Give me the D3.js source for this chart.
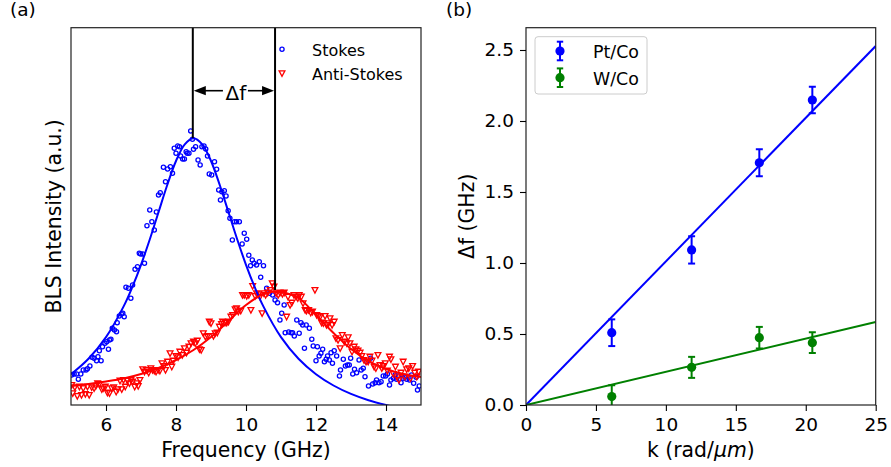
<!DOCTYPE html>
<html><head><meta charset="utf-8">
<script src="https://cdn.jsdelivr.net/npm/d3@7"></script>
<style>body{margin:0;background:#fff}svg{display:block}text{font-family:"DejaVu Sans",sans-serif;fill:#000}</style>
</head><body><svg id="c" width="891" height="467"></svg>
<script>
// ---------- Panel (a) data: [frequency GHz, intensity a.u.] ----------
const stokes = [[5.02,30],[5.09,31],[5.16,31],[5.21,25.7],[5.28,31],[5.35,35],[5.43,35],[5.47,36.3],[5.54,39],[5.60,47.7],[5.66,46.7],[5.73,44.3],[5.77,48.3],[5.81,54.3],[5.86,44.3],[5.90,58.3],[5.97,61.7],[6.02,63.3],[6.07,55.7],[6.10,65],[6.14,65.7],[6.18,76.7],[6.24,75],[6.30,73.3],[6.32,82.3],[6.38,89],[6.44,91],[6.48,91.7],[6.52,88.3],[6.57,117.7],[6.64,116.7],[6.71,106.7],[6.76,120],[6.83,135.7],[6.90,138.3],[6.95,151.7],[6.99,151],[7.05,151],[7.10,141.7],[7.17,179.3],[7.25,195],[7.31,183.3],[7.38,175],[7.44,193],[7.50,210],[7.55,212.3],[7.64,237.7],[7.70,223.3],[7.76,236],[7.84,238.3],[7.90,231.7],[7.95,256.7],[8.00,251.7],[8.05,259],[8.10,258.3],[8.13,249],[8.19,246],[8.24,246],[8.29,253.3],[8.32,251.7],[8.37,251.7],[8.42,274],[8.47,265.7],[8.50,255.7],[8.56,258.3],[8.63,245],[8.69,240],[8.74,258.3],[8.80,259],[8.85,256],[8.90,249],[8.95,231],[9.02,230],[9.10,243.3],[9.16,235.7],[9.22,215],[9.27,205],[9.31,213.3],[9.38,214.3],[9.43,209],[9.49,194.3],[9.54,186.7],[9.61,165],[9.67,183.3],[9.73,183.3],[9.81,183.3],[9.89,161],[9.95,171.7],[10.02,165.7],[10.08,149.7],[10.13,139.3],[10.18,145],[10.23,141.7],[10.30,140],[10.38,143.3],[10.42,127.7],[10.50,139.3],[10.59,116.7],[10.67,111.7],[10.76,110],[10.83,105],[10.90,102.3],[10.97,85],[11.02,91.7],[11.09,100],[11.12,72.3],[11.22,73],[11.29,72.3],[11.33,72.3],[11.38,69],[11.45,85],[11.52,71.7],[11.57,82.3],[11.62,80],[11.67,56.7],[11.72,80],[11.81,76.7],[11.88,65.7],[11.92,59],[12.00,44.3],[12.04,58.3],[12.09,49],[12.14,51.7],[12.19,55.7],[12.24,43.3],[12.29,45.7],[12.33,49],[12.38,45],[12.43,52.3],[12.47,41.7],[12.52,54.3],[12.59,49],[12.67,29],[12.70,35],[12.78,45.7],[12.84,39],[12.90,40],[12.95,40],[12.99,46.7],[13.05,31],[13.10,35.7],[13.16,32.3],[13.23,45],[13.29,35],[13.35,36.7],[13.40,28.3],[13.45,43.3],[13.50,19],[13.56,46.7],[13.62,21],[13.69,22.3],[13.73,25],[13.80,22.3],[13.86,23.3],[13.92,29],[13.99,29],[14.04,31],[14.10,20],[14.14,25],[14.21,26.7],[14.26,30],[14.30,25.7],[14.36,29],[14.43,22.3],[14.49,26.7],[14.54,27.7],[14.59,25.7],[14.67,25],[14.73,30],[14.79,21.7],[14.86,27.7],[14.90,15],[14.95,19]];

const antiStokes = [[5.02,20],[5.05,11.7],[5.11,17.7],[5.18,9],[5.24,18.3],[5.30,10],[5.35,16.7],[5.41,11],[5.47,18.3],[5.52,10],[5.59,17.7],[5.66,16.7],[5.71,19],[5.76,21.7],[5.81,21],[5.88,15.7],[5.92,16.7],[5.98,18.3],[6.04,12.3],[6.10,11.7],[6.16,16.7],[6.22,17.7],[6.29,13.3],[6.34,15.7],[6.40,24.3],[6.45,15.7],[6.50,25],[6.55,18.3],[6.61,24.3],[6.67,21.7],[6.71,25],[6.76,23.3],[6.82,18.3],[6.88,21.7],[6.92,19],[6.97,25],[7.05,35.7],[7.10,33.3],[7.16,35],[7.22,32.3],[7.28,36.7],[7.33,35],[7.38,34.3],[7.43,33.3],[7.49,35],[7.54,34.3],[7.60,41.7],[7.66,39],[7.70,35],[7.76,43.3],[7.83,51.7],[7.88,38.3],[7.92,44.3],[8.00,49],[8.06,47.7],[8.11,53.3],[8.18,50],[8.24,56.7],[8.30,52.3],[8.37,58.3],[8.43,61.7],[8.50,63.3],[8.55,61.7],[8.61,64.3],[8.67,55.7],[8.72,55],[8.78,71.7],[8.84,68.3],[8.90,69],[8.95,83.3],[9.00,81.7],[9.07,69],[9.12,71.7],[9.18,72.3],[9.24,78.3],[9.30,81],[9.33,83.3],[9.40,82.3],[9.45,82.3],[9.50,83.3],[9.57,88.3],[9.62,90],[9.69,95.7],[9.73,96.7],[9.78,93.3],[9.85,94.3],[9.90,110],[9.95,110],[10.02,109],[10.08,110],[10.14,95],[10.19,119],[10.26,109],[10.30,111.7],[10.36,110.7],[10.40,108.3],[10.46,91.7],[10.51,111.7],[10.56,110],[10.62,112.3],[10.69,115],[10.75,121.7],[10.80,118.3],[10.86,111.7],[10.92,110],[10.97,112.3],[11.04,111],[11.09,112.3],[11.16,88.3],[11.20,108.3],[11.26,100],[11.31,102.3],[11.37,110],[11.43,108.3],[11.48,106.7],[11.52,110],[11.58,108.3],[11.63,101.7],[11.69,95],[11.73,94.3],[11.79,95],[11.85,92.3],[11.90,93.3],[11.97,115],[12.02,90],[12.07,89],[12.11,87.7],[12.16,82.3],[12.21,81.7],[12.26,89],[12.30,80],[12.36,81.7],[12.40,86.7],[12.46,80],[12.52,83.3],[12.57,66.7],[12.63,65],[12.69,56.7],[12.75,70],[12.81,63.3],[12.88,61.7],[12.92,67.7],[12.97,61.7],[13.03,53.3],[13.09,58.3],[13.14,55.7],[13.20,54.3],[13.26,52.3],[13.31,49],[13.37,45],[13.43,43.3],[13.49,43.3],[13.54,48.3],[13.60,44.3],[13.66,38.3],[13.71,36.7],[13.77,50],[13.83,40],[13.88,36.7],[13.92,39],[13.98,41.7],[14.04,34.3],[14.10,48.3],[14.14,45.7],[14.21,31],[14.27,38.3],[14.32,27.7],[14.37,25],[14.43,32.3],[14.49,43.3],[14.54,28.3],[14.59,35.7],[14.65,36.7],[14.70,26.7],[14.76,39],[14.82,32.3],[14.88,28.3],[14.93,33.3]];

// fit curves
const stokesFit = [[5,30.8],[5.5,46.3],[6,67.9],[6.5,98.4],[6.75,117.8],[7,140.2],[7.25,165.5],[7.5,192.8],[7.75,220],[8,244],[8.25,260.7],[8.5,266.8],[8.75,260.7],[9,244],[9.25,220],[9.5,192.8],[9.75,165.5],[10,140.2],[10.25,117.8],[10.5,98.4],[11,67.9],[11.5,46.3],[12,30.8],[12.5,19.5],[13,11.1],[13.5,4.8],[14,0],[14.5,-4]];
const antiFit = [[5,19],[5.5,21],[6,23.5],[6.5,26.5],[7,31],[7.5,37],[8,45],[8.5,55],[9,68],[9.5,84],[10,100],[10.5,111],[10.85,113.5],[11,113],[11.5,107],[12,90],[12.5,72],[13,56],[13.5,44],[14,36],[14.5,31],[15,28]];
const peakStokes = [8.48, 267];
const peakAnti = [10.83, 115];
const freqTicks = [6, 8, 10, 12, 14];

// ---------- Panel (b) data ----------
const kValues = [6.13, 11.84, 16.68, 20.47];
const ptCoDf = [0.509, 1.092, 1.706, 2.148];
const ptCoErr = [0.094, 0.096, 0.095, 0.094];
const wCoDf = [0.059, 0.265, 0.474, 0.439];
const wCoErr = [0.08, 0.074, 0.076, 0.073];
const fitK = [0, 25];
const ptCoFit = [0, 2.528];
const wCoFit = [0, 0.584];
const kTicks = [0, 5, 10, 15, 20, 25];
const dfTicks = [0, 0.5, 1.0, 1.5, 2.0, 2.5];

const svg = d3.select('#c');
const BLUE = '#0000ff', RED = '#ff0000', GREEN = '#008000';
const TICK_FS = '18.5px', LABEL_FS = '20.4px';

function styleAxis(g){
  g.select('.domain').remove();
  g.selectAll('.tick line').attr('stroke','#000').attr('stroke-width',1.1);
  g.selectAll('.tick text').style('font-size',TICK_FS).attr('fill','#000');
}

// ================= Panel (a) =================
const A = {l:71, r:421, t:27.7, b:405};
const xa = d3.scaleLinear().domain([5,15]).range([A.l,A.r]);
const ya = d3.scaleLinear().domain([0,377.3]).range([A.b,A.t]);

const defs = svg.append('defs');
defs.append('clipPath').attr('id','clipA').append('rect')
  .attr('x',A.l).attr('y',A.t).attr('width',A.r-A.l).attr('height',A.b-A.t);
defs.append('clipPath').attr('id','clipB').append('rect')
  .attr('x',526).attr('y',27.7).attr('width',349.7).attr('height',377.3);

const CR = 2.1, CSW = 1.3, TS = 2.9;
const ga = svg.append('g').attr('clip-path','url(#clipA)');
ga.selectAll('circle.s').data(stokes).join('circle')
  .attr('cx',d=>xa(d[0])).attr('cy',d=>ya(d[1])).attr('r',CR)
  .attr('fill','none').attr('stroke',BLUE).attr('stroke-width',CSW);
const tri = s => `M${-s},${-s*0.85}L${s},${-s*0.85}L0,${s*1.05}Z`;
ga.selectAll('path.a').data(antiStokes).join('path')
  .attr('transform',d=>`translate(${xa(d[0])},${ya(d[1])})`)
  .attr('d',tri(TS)).attr('fill','none').attr('stroke',RED).attr('stroke-width',CSW);

const lineA = d3.line().x(d=>xa(d[0])).y(d=>ya(d[1])).curve(d3.curveCatmullRom.alpha(0.5));
ga.append('path').attr('d',lineA(stokesFit)).attr('fill','none').attr('stroke',BLUE).attr('stroke-width',2);
ga.append('path').attr('d',lineA(antiFit)).attr('fill','none').attr('stroke',RED).attr('stroke-width',2);

// vertical marker lines
[peakStokes, peakAnti].forEach(p=>{
  svg.append('line').attr('x1',xa(p[0])).attr('x2',xa(p[0]))
    .attr('y1',A.t).attr('y2',ya(p[1])).attr('stroke','#000').attr('stroke-width',2);
});
// Δf arrow
const x1 = xa(peakStokes[0]), x2 = xa(peakAnti[0]), ay = 90.7;
const midX = (x1+x2)/2 + 2;
svg.append('line').attr('x1',x1+8).attr('x2',midX-13).attr('y1',ay).attr('y2',ay).attr('stroke','#000').attr('stroke-width',1.6);
svg.append('line').attr('x1',midX+12).attr('x2',x2-8).attr('y1',ay).attr('y2',ay).attr('stroke','#000').attr('stroke-width',1.6);
svg.append('path').attr('d',`M${x1+1},${ay}L${x1+13},${ay-4.6}L${x1+13},${ay+4.6}Z`).attr('fill','#000');
svg.append('path').attr('d',`M${x2-1},${ay}L${x2-13},${ay-4.6}L${x2-13},${ay+4.6}Z`).attr('fill','#000');
svg.append('text').attr('x',midX).attr('y',100).attr('text-anchor','middle').style('font-size','20px').text('Δf');

// frame
svg.append('rect').attr('x',A.l).attr('y',A.t).attr('width',A.r-A.l).attr('height',A.b-A.t)
  .attr('fill','none').attr('stroke','#222').attr('stroke-width',1.2);
svg.append('g').attr('transform',`translate(0,${A.b})`)
  .call(d3.axisBottom(xa).tickValues(freqTicks).tickSize(6).tickPadding(7).tickFormat(d3.format('d')))
  .call(styleAxis);

svg.append('text').attr('x',(A.l+A.r)/2).attr('y',456.5).attr('text-anchor','middle').style('font-size',LABEL_FS).text('Frequency (GHz)');
svg.append('text').attr('transform',`translate(61,${(A.t+A.b)/2}) rotate(-90)`).attr('text-anchor','middle').style('font-size',LABEL_FS).text('BLS Intensity (a.u.)');
svg.append('text').attr('x',10).attr('y',15.5).style('font-size','18.5px').text('(a)');

// legend (a)
svg.append('circle').attr('cx',282).attr('cy',49.3).attr('r',CR).attr('fill','none').attr('stroke',BLUE).attr('stroke-width',CSW);
svg.append('path').attr('transform','translate(282,73.3)').attr('d',tri(TS)).attr('fill','none').attr('stroke',RED).attr('stroke-width',CSW);
svg.append('text').attr('x',312).attr('y',56).style('font-size','16px').text('Stokes');
svg.append('text').attr('x',312).attr('y',80).style('font-size','16px').text('Anti-Stokes');

// ================= Panel (b) =================
const B = {l:526, r:875.7, t:27.7, b:405};
const xb = d3.scaleLinear().domain([0,25]).range([B.l,B.r]);
const yb = d3.scaleLinear().domain([0,2.657]).range([B.b,B.t]);

const gb = svg.append('g').attr('clip-path','url(#clipB)');
const series = [
  {name:'Pt/Co', color:BLUE, y:ptCoDf, e:ptCoErr, fit:ptCoFit},
  {name:'W/Co', color:GREEN, y:wCoDf, e:wCoErr, fit:wCoFit}
];
series.forEach(s=>{
  gb.append('line').attr('x1',xb(fitK[0])).attr('y1',yb(s.fit[0]))
    .attr('x2',xb(fitK[1])).attr('y2',yb(s.fit[1])).attr('stroke',s.color).attr('stroke-width',2);
});
series.forEach(s=>{
  kValues.forEach((k,i)=>{
    const cx = xb(k), lo = yb(s.y[i]-s.e[i]), hi = yb(s.y[i]+s.e[i]);
    gb.append('line').attr('x1',cx).attr('x2',cx).attr('y1',lo).attr('y2',hi).attr('stroke',s.color).attr('stroke-width',2);
    [lo,hi].forEach(yy=>gb.append('line').attr('x1',cx-3.5).attr('x2',cx+3.5).attr('y1',yy).attr('y2',yy).attr('stroke',s.color).attr('stroke-width',2));
    gb.append('circle').attr('cx',cx).attr('cy',yb(s.y[i])).attr('r',4.6).attr('fill',s.color);
  });
});

svg.append('rect').attr('x',B.l).attr('y',B.t).attr('width',B.r-B.l).attr('height',B.b-B.t)
  .attr('fill','none').attr('stroke','#222').attr('stroke-width',1.2);
svg.append('g').attr('transform',`translate(0,${B.b})`)
  .call(d3.axisBottom(xb).tickValues(kTicks).tickSize(6).tickPadding(7).tickFormat(d3.format('d')))
  .call(styleAxis);
svg.append('g').attr('transform',`translate(${B.l},0)`)
  .call(d3.axisLeft(yb).tickValues(dfTicks).tickSize(6).tickPadding(6).tickFormat(d3.format('.1f')))
  .call(styleAxis);

const kl = svg.append('text').attr('x',(B.l+B.r)/2).attr('y',456.5).attr('text-anchor','middle').style('font-size',LABEL_FS);
kl.append('tspan').text('k (rad/');
kl.append('tspan').style('font-style','italic').text('μm');
kl.append('tspan').text(')');
svg.append('text').attr('transform',`translate(474,${(B.t+B.b)/2}) rotate(-90)`).attr('text-anchor','middle').style('font-size',LABEL_FS).text('Δf (GHz)');
svg.append('text').attr('x',446).attr('y',15.5).style('font-size','18.5px').text('(b)');

// legend (b)
svg.append('rect').attr('x',535).attr('y',36.7).attr('width',112).attr('height',57.3).attr('rx',3)
  .attr('fill','#fff').attr('fill-opacity',0.8).attr('stroke','#ccc').attr('stroke-width',1);
series.forEach((s,i)=>{
  const cy = 51 + i*26.7, cx = 560;
  svg.append('line').attr('x1',cx).attr('x2',cx).attr('y1',cy-9.3).attr('y2',cy+9.3).attr('stroke',s.color).attr('stroke-width',2);
  [cy-9.3,cy+9.3].forEach(yy=>svg.append('line').attr('x1',cx-3.2).attr('x2',cx+3.2).attr('y1',yy).attr('y2',yy).attr('stroke',s.color).attr('stroke-width',2));
  svg.append('circle').attr('cx',cx).attr('cy',cy).attr('r',4.6).attr('fill',s.color);
  svg.append('text').attr('x',593).attr('y',cy+7).style('font-size','17.4px').text(s.name);
});
</script></body></html>
